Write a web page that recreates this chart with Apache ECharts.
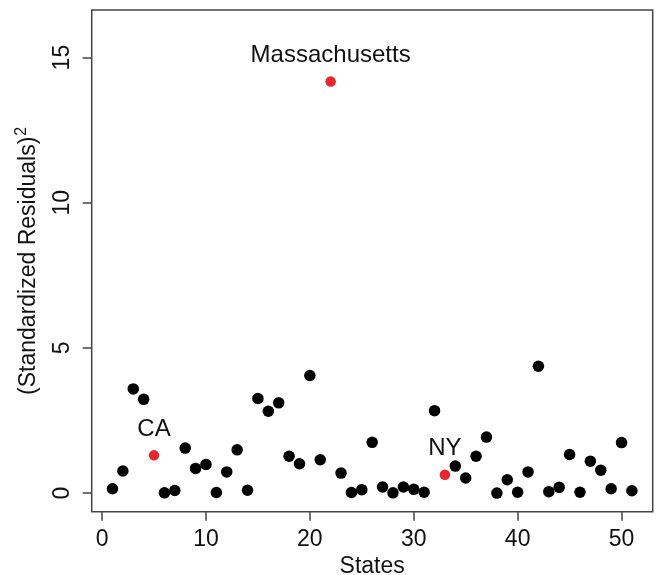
<!DOCTYPE html>
<html>
<head>
<meta charset="utf-8">
<script src="https://cdn.jsdelivr.net/npm/echarts@6/dist/echarts.min.js"></script>
<style>
html,body{margin:0;padding:0;background:#fff;}
#chart{width:657px;height:575px;}
</style>
</head>
<body>
<div id="chart"></div>
<script>
// States (x) and squared standardized residuals (y)
var states = [1,2,3,4,5,6,7,8,9,10,11,12,13,14,15,16,17,18,19,20,21,22,23,24,25,26,27,28,29,30,31,32,33,34,35,36,37,38,39,40,41,42,43,44,45,46,47,48,49,50,51];
var residualsSq = [0.15,0.76,3.59,3.23,1.30,0.01,0.09,1.55,0.85,0.99,0.02,0.73,1.49,0.10,3.26,2.82,3.11,1.27,1.01,4.05,1.15,14.18,0.69,0.02,0.12,1.75,0.21,0.01,0.21,0.13,0.03,2.84,0.63,0.93,0.52,1.27,1.93,0.00,0.46,0.03,0.73,4.37,0.05,0.20,1.33,0.03,1.10,0.79,0.15,1.74,0.08];
var highlightStates = [5, 22, 33];
var highlightLabels = ['CA', 'Massachusetts', 'NY'];
var xTicks = [0, 10, 20, 30, 40, 50];
var yTicks = [0, 5, 10, 15];

var blackData = [], redData = [];
for (var i = 0; i < states.length; i++) {
  var k = highlightStates.indexOf(states[i]);
  if (k >= 0) redData.push({value: [states[i], residualsSq[i]], name: highlightLabels[k]});
  else blackData.push([states[i], residualsSq[i]]);
}

var FONT = 'Liberation Sans, Arial, Helvetica, sans-serif';
var chart = echarts.init(document.getElementById('chart'), null, {renderer: 'canvas'});
chart.setOption({
  animation: false,
  backgroundColor: '#fff',
  grid: {left: 91.7, right: 4.3, top: 10, bottom: 63.3, containLabel: false, outerBoundsMode: 'none',
    show: true, borderColor: '#444', borderWidth: 1.5, backgroundColor: 'transparent'},
  xAxis: {
    type: 'value', min: -1, max: 53,
    name: 'States', nameLocation: 'middle', nameGap: 37,
    nameTextStyle: {fontFamily: FONT, fontSize: 23, color: '#111'},
    axisLine: {show: false, onZero: false},
    splitLine: {show: false},
    axisTick: {show: true, inside: false, length: 9, lineStyle: {color: '#444', width: 1.5}, customValues: xTicks},
    axisLabel: {fontFamily: FONT, fontSize: 23, color: '#111', margin: 16, customValues: xTicks}
  },
  yAxis: {
    type: 'value', min: -0.64, max: 16.64,
    name: '{a|(Standardized Residuals)}{s|2}', nameLocation: 'middle', nameGap: 49, nameRotate: 90,
    nameTextStyle: {fontFamily: FONT, fontSize: 23, color: '#111',
      rich: {a: {fontFamily: FONT, fontSize: 23, color: '#111'}, s: {fontFamily: FONT, fontSize: 16, color: '#111', padding: [0, 0, 13, 1]}}},
    axisLine: {show: false, onZero: false},
    splitLine: {show: false},
    axisTick: {show: true, inside: false, length: 9, lineStyle: {color: '#444', width: 1.5}, customValues: yTicks},
    axisLabel: {fontFamily: FONT, fontSize: 23, color: '#111', margin: 18, rotate: 90, customValues: yTicks}
  },
  series: [
    {type: 'scatter', data: blackData, symbol: 'circle', symbolSize: 11.5,
      itemStyle: {color: '#000', opacity: 1}, silent: true},
    {type: 'scatter', data: redData, symbol: 'circle', symbolSize: 10.5,
      itemStyle: {color: '#e8262b', opacity: 1}, silent: true,
      label: {show: true, position: 'top', distance: 9, formatter: function (p) { return p.name; },
        fontFamily: FONT, fontSize: 24, color: '#111'}}
  ]
});
</script>
</body>
</html>
